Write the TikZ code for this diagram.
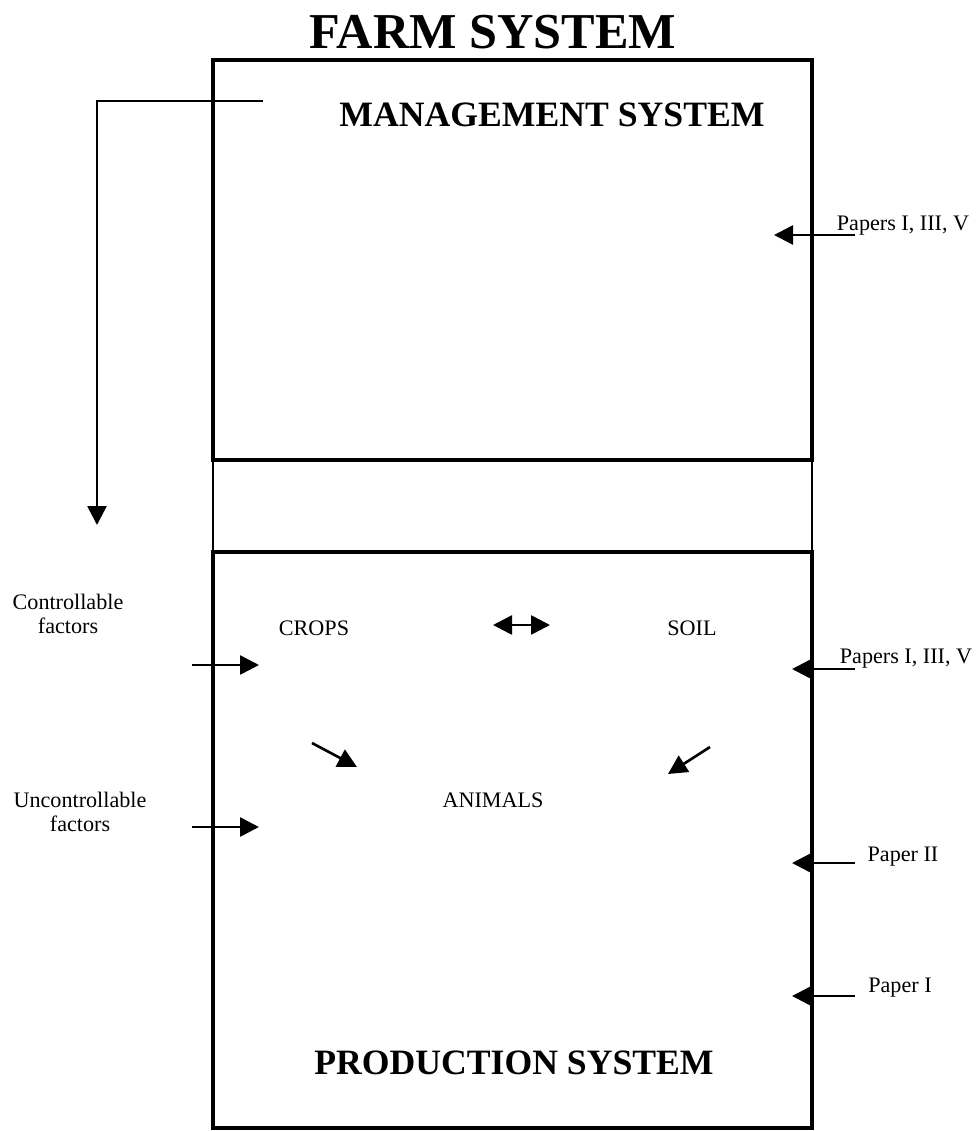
\documentclass[tikz,border=0pt]{standalone}
\usepackage{fontspec}
\setmainfont{Liberation Serif}
\usetikzlibrary{arrows.meta}
\tikzset{
	sysbox/.style={line width=2.3pt},
	link/.style={line width=0.6pt},
	arr/.style={line width=1.5pt, -{Triangle[length=0.38cm, width=0.38cm]}},
	darr/.style={line width=1.5pt, {Triangle[length=0.38cm, width=0.38cm]}-{Triangle[length=0.38cm, width=0.38cm]}},
	txt/.style={font=\fontsize{12.6}{14}\selectfont, inner sep=0pt},
	systitle/.style={font=\fontsize{20.3}{24}\selectfont\bfseries, inner sep=0pt}
}

\begin{document}
\begin{tikzpicture}[x=0.02cm, y=-0.02cm]
			%%%%% START %%%%%
			\useasboundingbox (0, 0) rectangle (979, 1131);
			
			% boxes
			\draw[sysbox] (213, 60) rectangle (812, 460);
			\draw[sysbox] (213, 552) rectangle (812, 1128);
			\draw[link] (213, 460) -- (213, 552);
			\draw[link] (812, 460) -- (812, 552);
			
			% titles
			\node[systitle, font=\fontsize{28.6}{32}\selectfont\bfseries] (farm) at (493, 32) {FARM SYSTEM};
			\node[systitle] (mgmt) at (552, 115) {MANAGEMENT SYSTEM};
			\node[systitle] (prod) at (514, 1063) {PRODUCTION SYSTEM};
			
			% production parts
			\node[txt] (crops) at (314, 628) {CROPS};
			\node[txt] (soil) at (692, 628) {SOIL};
			\node[txt] (animals) at (493, 800) {ANIMALS};
			
			\coordinate (csL) at (493, 625);
			\coordinate (csR) at (550, 625);
			\draw[darr] (csL) -- (csR);
			
			\coordinate (caS) at (312, 743);
			\coordinate (caE) at (357, 767);
			\draw[arr] (caS) -- (caE);
			
			\coordinate (saS) at (710, 747);
			\coordinate (saE) at (668, 774);
			\draw[arr] (saS) -- (saE);
			
			% factors
			\node[txt, align=center] (ctrl) at (68, 614) {Controllable\\factors};
			\node[txt, align=center] (unctrl) at (80, 812) {Uncontrollable\\factors};
			
			\coordinate (ctrlS) at (192, 665);
			\coordinate (ctrlE) at (259, 665);
			\draw[arr] (ctrlS) -- (ctrlE);
			
			\coordinate (unS) at (192, 827);
			\coordinate (unE) at (259, 827);
			\draw[arr] (unS) -- (unE);
			
			% management to production
			\coordinate (mgS) at (263, 101);
			\coordinate (mgC) at (97, 101);
			\coordinate (mgE) at (97, 525);
			\draw[arr] (mgS) -- (mgC) -- (mgE);
			
			% papers
			\node[txt] (papA) at (903, 226) {Papers I, III, V};
			\node[txt] (papB) at (906, 659) {Papers I, III, V};
			\node[txt] (papC) at (903, 857) {Paper II};
			\node[txt] (papD) at (900, 988) {Paper I};
			
			\coordinate (pAS) at (855, 235);
			\coordinate (pAE) at (774, 235);
			\draw[arr] (pAS) -- (pAE);
			
			\coordinate (pBS) at (855, 669);
			\coordinate (pBE) at (792, 669);
			\draw[arr] (pBS) -- (pBE);
			
			\coordinate (pCS) at (855, 863);
			\coordinate (pCE) at (792, 863);
			\draw[arr] (pCS) -- (pCE);
			
			\coordinate (pDS) at (855, 996);
			\coordinate (pDE) at (792, 996);
			\draw[arr] (pDS) -- (pDE);
			%%%%% END %%%%%
\end{tikzpicture}
\end{document}
